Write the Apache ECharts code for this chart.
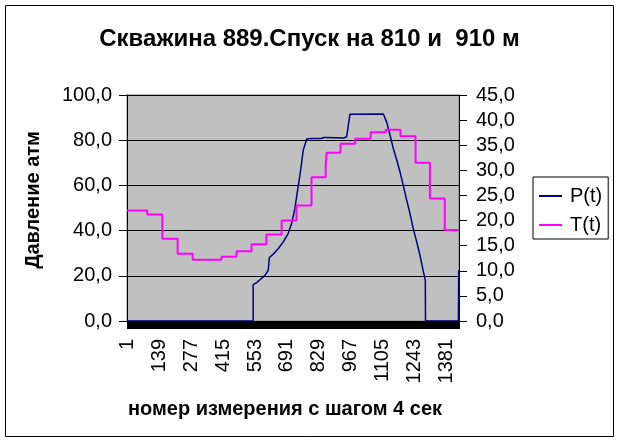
<!DOCTYPE html>
<html>
<head>
<meta charset="utf-8">
<script src="https://cdn.jsdelivr.net/npm/echarts@6/dist/echarts.min.js"></script>
<style>html,body{margin:0;padding:0;background:#fff}#c{width:619px;height:442px}</style>
</head>
<body>
<div id="c"></div>
<script>
// number of measurements (category axis: measurement number)
var measurementCount = 1433;
var categories = [];
for (var k = 1; k <= measurementCount; k++) categories.push(String(k));

// P(t) pressure, atm (left axis): measurement number / value
var pIdx = [1, 545, 545, 560, 581, 596, 610, 613, 615, 631, 653, 675, 696, 711, 725, 739, 750, 761, 776, 800, 840, 842, 846, 850, 862, 870, 935, 948, 953, 957, 963, 1107, 1121, 1136, 1150, 1165, 1179, 1193, 1208, 1222, 1236, 1251, 1265, 1280, 1288, 1289, 1431, 1432];
var pVal = [0, 0, 16.1, 17.0, 18.8, 20.2, 22.4, 23.0, 28.1, 29.5, 32.0, 35.0, 38.7, 43.1, 49.7, 59.3, 66.7, 75.5, 80.5, 80.7, 80.7, 80.2, 80.2, 81.2, 81.2, 80.9, 81.0, 81.4, 84.4, 87.6, 91.5, 91.6, 88.1, 82.2, 76.3, 71.1, 65.9, 60.0, 53.4, 47.5, 40.9, 35.0, 29.1, 21.7, 18.0, 0, 0, 22.4];

// T(t) temperature (right axis): step start measurement / value
var tIdx = [1, 88, 153, 219, 284, 408, 473, 538, 602, 668, 732, 797, 858, 862, 922, 986, 1052, 1117, 1181, 1246, 1308, 1372, 1433];
var tVal = [22.0, 21.2, 16.4, 13.4, 12.2, 12.8, 13.9, 15.3, 17.2, 20.0, 23.0, 28.6, 31.0, 33.5, 35.3, 36.3, 37.6, 38.1, 36.8, 31.5, 24.4, 18.1, 18.1];

var leftTicks = [0, 20, 40, 60, 80, 100];
var rightTicks = [0, 5, 10, 15, 20, 25, 30, 35, 40, 45];

var FONT = 'Arial, "Liberation Sans", sans-serif';
function comma(v) { return v.toFixed(1).replace('.', ','); }

var pData = pIdx.map(function (i, n) { return [i - 1, pVal[n]]; });
var tData = tIdx.map(function (i, n) { return [i - 1, tVal[n]]; });

var chart = echarts.init(document.getElementById('c'), null, {renderer: 'canvas'});
chart.setOption({
  animation: false,
  backgroundColor: '#fff',
  graphic: [{
    type: 'rect', silent: true,
    shape: {x: 5.5, y: 5.5, width: 608, height: 431},
    style: {fill: 'none', stroke: '#000', lineWidth: 1}
  }],
  title: {
    text: 'Скважина 889.Спуск на 810 и  910 м',
    left: 'center', top: 22,
    textStyle: {fontFamily: FONT, fontSize: 24, fontWeight: 'bold', color: '#000'}
  },
  legend: {
    orient: 'vertical', left: 533, top: 177,
    padding: [9, 6, 4, 6], itemGap: 9,
    itemWidth: 23, itemHeight: 2, icon: 'rect',
    borderColor: '#000', borderWidth: 1, backgroundColor: '#fff',
    textStyle: {fontFamily: FONT, fontSize: 20, color: '#000', padding: [0, 0, 0, 3]},
    data: ['P(t)', 'T(t)']
  },
  grid: {
    left: 127, right: 160, top: 95, bottom: 121,
    show: true, backgroundColor: '#c0c0c0', borderColor: '#808080', borderWidth: 1
  },
  xAxis: {
    type: 'category', data: categories, boundaryGap: true,
    name: 'номер измерения с шагом 4 сек', nameLocation: 'middle', nameGap: 78,
    nameTextStyle: {fontFamily: FONT, fontSize: 20, fontWeight: 'bold', color: '#000', padding: [0, 16, 0, 0]},
    axisLine: {lineStyle: {color: '#000', width: 1}},
    axisTick: {show: true, interval: 0, length: 8, lineStyle: {color: '#000', width: 1}},
    axisLabel: {interval: 137, rotate: 90, margin: 18, fontFamily: FONT, fontSize: 20, color: '#000'},
    splitLine: {show: false}
  },
  yAxis: [{
    type: 'value', min: 0, max: 100, interval: 20, position: 'left',
    name: 'Давление атм', nameLocation: 'middle', nameGap: 84, nameRotate: 90,
    nameTextStyle: {fontFamily: FONT, fontSize: 20, fontWeight: 'bold', color: '#000', padding: [0, 0, 0, 16]},
    axisLine: {show: true, lineStyle: {color: '#000', width: 1}},
    axisTick: {show: true, length: 8, lineStyle: {color: '#000'}},
    axisLabel: {margin: 15, fontFamily: FONT, fontSize: 20, color: '#000', formatter: comma},
    splitLine: {show: true, lineStyle: {color: '#000', width: 1}}
  }, {
    type: 'value', min: 0, max: 45, interval: 5, position: 'right',
    axisLine: {show: true, lineStyle: {color: '#000', width: 1}},
    axisTick: {show: true, length: 8, lineStyle: {color: '#000'}},
    axisLabel: {margin: 17, fontFamily: FONT, fontSize: 20, color: '#000', formatter: comma},
    splitLine: {show: false}
  }],
  series: [{
    name: 'P(t)', type: 'line', yAxisIndex: 0, data: pData,
    showSymbol: false, symbol: 'none',
    itemStyle: {color: '#000080'},
    lineStyle: {color: '#000080', width: 1.5}
  }, {
    name: 'T(t)', type: 'line', yAxisIndex: 1, data: tData, step: 'end',
    showSymbol: false, symbol: 'none',
    itemStyle: {color: '#ff00ff'},
    lineStyle: {color: '#ff00ff', width: 2}
  }]
});
</script>
</body>
</html>
